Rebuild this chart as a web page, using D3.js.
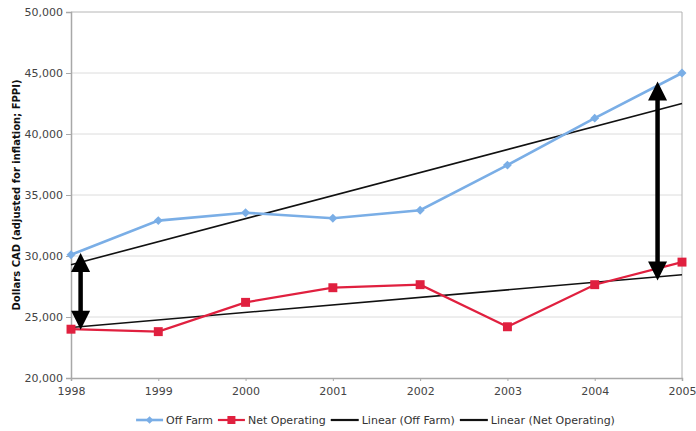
<!DOCTYPE html>
<html><head><meta charset="utf-8">
<script src="https://cdn.jsdelivr.net/npm/d3@7"></script>
<style>body{margin:0;background:#fff}svg{display:block}text{font-family:"DejaVu Sans",Verdana,sans-serif}</style>
</head><body><svg id="c" width="696" height="431"></svg>
<script>
const years = [1998, 1999, 2000, 2001, 2002, 2003, 2004, 2005];
const offFarm = [30100, 32900, 33550, 33100, 33750, 37450, 41300, 45000];
const netOperating = [24000, 23800, 26200, 27400, 27650, 24200, 27650, 29500];
const yTicks = [20000, 25000, 30000, 35000, 40000, 45000, 50000];
const seriesNames = ["Off Farm", "Net Operating", "Linear (Off Farm)", "Linear (Net Operating)"];
const yTitle = "Dollars CAD (adjusted for inflation; FPPI)";
// annotation arrows (year, top value, bottom value)
const arrows = [[1998.11, 30250, 23950], [2004.72, 44300, 28000]];

const svg = d3.select("#c");
const M = {l:71, r:682, t:12, b:378};
const x = d3.scaleLinear().domain([1998, 2005]).range([M.l, M.r]);
const y = d3.scaleLinear().domain([20000, 50000]).range([M.b, M.t]);

function linreg(xs, ys){
  const n = xs.length, mx = d3.mean(xs), my = d3.mean(ys);
  let sxy = 0, sxx = 0;
  for (let i=0;i<n;i++){ sxy += (xs[i]-mx)*(ys[i]-my); sxx += (xs[i]-mx)*(xs[i]-mx); }
  const b = sxy/sxx, a = my - b*mx;
  return t => a + b*t;
}

// gridlines
svg.append("g").selectAll("line").data(yTicks.slice(1)).join("line")
  .attr("x1", M.l).attr("x2", M.r).attr("y1", d=>y(d)).attr("y2", d=>y(d))
  .attr("stroke", "#dcdcdc").attr("stroke-width", 1);
// frame top/right
svg.append("line").attr("x1", M.l).attr("x2", M.r).attr("y1", y(50000)).attr("y2", y(50000)).attr("stroke", "#c8c8c8");
svg.append("line").attr("x1", M.r).attr("x2", M.r).attr("y1", M.t).attr("y2", M.b).attr("stroke", "#b0b0b0");

// axes
const yAxis = svg.append("g").attr("transform", `translate(${M.l},0)`)
  .call(d3.axisLeft(y).tickValues(yTicks).tickFormat(d3.format(",")).tickSize(5).tickPadding(3));
const xAxis = svg.append("g").attr("transform", `translate(0,${M.b})`)
  .call(d3.axisBottom(x).tickValues(years).tickFormat(d3.format("d")).tickSize(3).tickPadding(6));
[yAxis, xAxis].forEach(g => {
  g.select(".domain").attr("stroke", "#a8a8a8").attr("stroke-width", 1.5);
  g.selectAll(".tick line").attr("stroke", "#a8a8a8");
  g.selectAll("text").attr("fill", "#444").style("font-size", "11px").style("font-family", "DejaVu Sans, Verdana, sans-serif");
});

// y title
svg.append("text").attr("transform", `translate(20,${(M.t+M.b)/2}) rotate(-90)`)
  .attr("text-anchor", "middle").attr("font-weight", "bold").attr("font-size", "10px").attr("fill", "#111")
  .text(yTitle);

const BLUE = "#7aaee6", RED = "#e0203f";
const line = d3.line().x((d,i)=>x(years[i])).y(d=>y(d));

// trend lines
const tOff = linreg(years, offFarm), tNet = linreg(years, netOperating);
[tOff, tNet].forEach(f => {
  svg.append("line").attr("x1", x(1998)).attr("x2", x(2005)).attr("y1", y(f(1998))).attr("y2", y(f(2005)))
    .attr("stroke", "#111").attr("stroke-width", 1.6);
});

// series
svg.append("path").datum(offFarm).attr("d", line).attr("fill", "none").attr("stroke", BLUE).attr("stroke-width", 2.6);
svg.append("path").datum(netOperating).attr("d", line).attr("fill", "none").attr("stroke", RED).attr("stroke-width", 2.2);
const diamond = d3.symbol().type(d3.symbolSquare).size(40);
const square = d3.symbol().type(d3.symbolSquare).size(80);
svg.append("g").selectAll("path").data(offFarm).join("path")
  .attr("d", diamond).attr("transform", (d,i)=>`translate(${x(years[i])},${y(d)}) rotate(45)`).attr("fill", BLUE);
svg.append("g").selectAll("path").data(netOperating).join("path")
  .attr("d", square).attr("transform", (d,i)=>`translate(${x(years[i])},${y(d)})`).attr("fill", RED);

// arrows
arrows.forEach(([yr, v1, v2]) => {
  const cx = x(yr), y1 = y(v1), y2 = y(v2), hw = 9.5, hh = 19;
  svg.append("line").attr("x1", cx).attr("x2", cx).attr("y1", y1+hh-2).attr("y2", y2-hh+2)
    .attr("stroke", "#000").attr("stroke-width", 4.5);
  svg.append("path").attr("d", `M${cx},${y1} L${cx+hw},${y1+hh} L${cx-hw},${y1+hh} Z`).attr("fill", "#000");
  svg.append("path").attr("d", `M${cx},${y2} L${cx+hw},${y2-hh} L${cx-hw},${y2-hh} Z`).attr("fill", "#000");
});

// legend
const lg = svg.append("g").attr("transform", "translate(0,420)");
const items = [
  {name: seriesNames[0], color: BLUE, sym: d3.symbol().type(d3.symbolSquare).size(28), rot: 45, w: 2.6},
  {name: seriesNames[1], color: RED, sym: d3.symbol().type(d3.symbolSquare).size(64), rot: 0, w: 2.2},
  {name: seriesNames[2], color: "#111", sym: null, w: 2.2},
  {name: seriesNames[3], color: "#111", sym: null, w: 2.2}
];
let cx = 0;
const g = lg.append("g");
items.forEach(it => {
  const L = it.sym ? 27 : 28;
  g.append("line").attr("x1", cx).attr("x2", cx+L).attr("y1", 0).attr("y2", 0).attr("stroke", it.color).attr("stroke-width", it.w);
  if (it.sym) g.append("path").attr("d", it.sym).attr("transform", `translate(${cx+L/2},0) rotate(${it.rot})`).attr("fill", it.color);
  const t = g.append("text").attr("x", cx+L+3).attr("y", 4).attr("font-size", "11px").attr("fill", "#333").text(it.name);
  cx += L + 3 + t.node().getComputedTextLength() + 5;
});
const tw = cx - 5;
g.attr("transform", `translate(${(138+613)/2 - tw/2},0)`);
</script></body></html>
